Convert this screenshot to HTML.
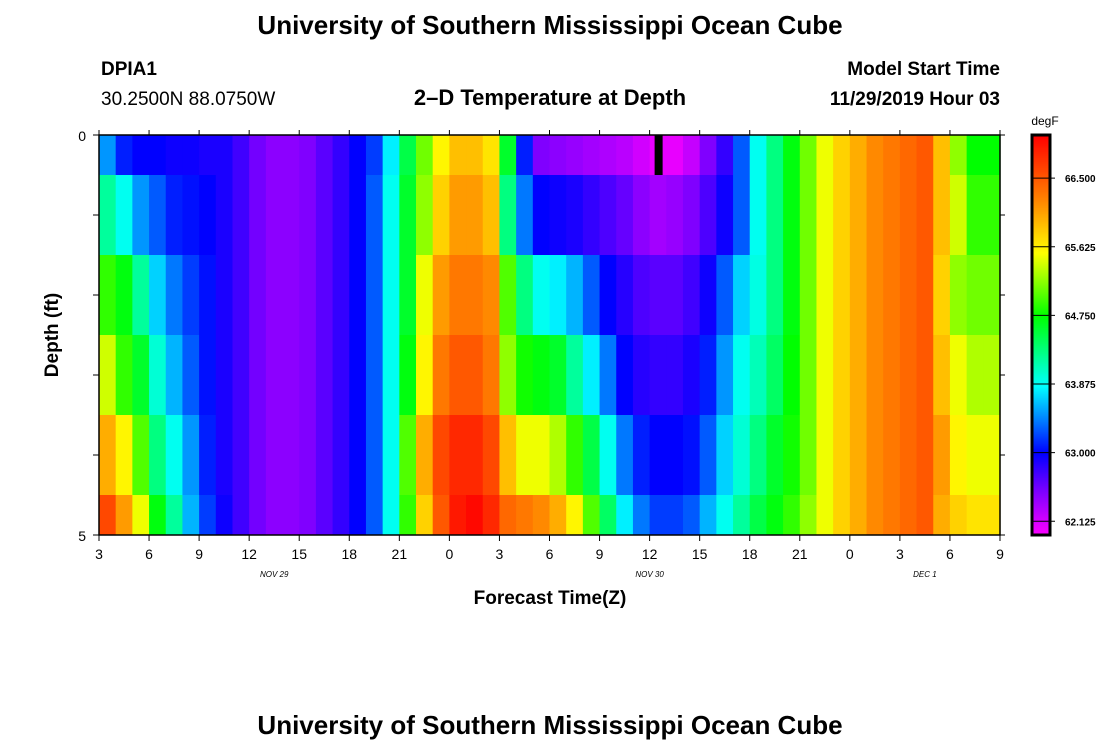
<!DOCTYPE html>
<html><head><meta charset="utf-8"><style>
body{margin:0;background:#fff;}
svg text{font-family:"Liberation Sans",sans-serif;}
</style></head><body>
<svg id="chart" width="1100" height="750" xmlns="http://www.w3.org/2000/svg">
<text x="550" y="34" text-anchor="middle" font-size="26" font-weight="bold">University of Southern Mississippi Ocean Cube</text>
<text x="101" y="75" font-size="19" font-weight="bold">DPIA1</text>
<text x="101" y="105" font-size="19">30.2500N 88.0750W</text>
<text x="550" y="105" text-anchor="middle" font-size="22" font-weight="bold">2–D Temperature at Depth</text>
<text x="1000" y="75" text-anchor="end" font-size="19" font-weight="bold">Model Start Time</text>
<text x="1000" y="105" text-anchor="end" font-size="19" font-weight="bold">11/29/2019 Hour 03</text>
<text transform="translate(58,335) rotate(-90)" text-anchor="middle" font-size="19" font-weight="bold">Depth (ft)</text>
<text x="550" y="604" text-anchor="middle" font-size="19" font-weight="bold">Forecast Time(Z)</text>
<text x="1045" y="125" text-anchor="middle" font-size="12">degF</text>
<text x="550" y="734" text-anchor="middle" font-size="26" font-weight="bold">University of Southern Mississippi Ocean Cube</text>
<g id="cells"></g><g id="axes"></g>
</svg>
<script>
const hours=[];for(let h=3;h<57;h++)hours.push(h);
const depthLevels=[0,1,2,3,4,5];
const row0=[63.5,63.1,63.0,63.0,62.95,62.95,62.9,62.9,62.75,62.55,62.45,62.45,62.5,62.65,62.8,63.0,63.2,63.8,64.5,65.1,65.6,65.9,65.9,65.7,64.6,63.1,62.5,62.45,62.4,62.35,62.3,62.25,62.15,62.05,62.05,62.2,62.5,62.8,63.3,63.9,64.3,64.7,65.1,65.5,65.8,66.0,66.2,66.3,66.4,66.5,65.9,65.2,64.75,64.75];
const row1=[64.2,63.9,63.5,63.3,63.1,63.05,63.0,62.9,62.75,62.55,62.45,62.45,62.5,62.65,62.8,63.0,63.3,63.9,64.6,65.2,65.8,66.1,66.1,65.9,64.3,63.4,63.0,62.95,62.9,62.8,62.7,62.6,62.45,62.35,62.4,62.5,62.7,62.95,63.3,63.9,64.3,64.7,65.1,65.5,65.8,66.0,66.2,66.3,66.4,66.5,65.9,65.4,64.9,64.9];
const row2=[64.9,64.7,64.2,63.7,63.4,63.2,63.05,62.9,62.75,62.55,62.45,62.45,62.5,62.65,62.8,63.0,63.3,63.9,64.6,65.5,66.1,66.3,66.3,66.2,65.0,64.3,63.9,63.8,63.6,63.3,63.0,62.85,62.7,62.65,62.65,62.75,62.95,63.3,63.7,63.95,64.3,64.7,65.1,65.5,65.8,66.0,66.2,66.3,66.4,66.5,65.8,65.2,65.1,65.1];
const row3=[65.4,64.9,64.6,64.0,63.6,63.3,63.05,62.9,62.75,62.55,62.45,62.45,62.5,62.65,62.8,63.0,63.3,63.9,64.7,65.6,66.3,66.5,66.5,66.3,65.2,64.8,64.7,64.6,64.2,63.8,63.4,63.0,62.85,62.8,62.8,62.9,63.1,63.5,63.9,64.1,64.4,64.75,65.1,65.5,65.8,66.0,66.2,66.3,66.4,66.5,65.9,65.5,65.3,65.3];
const row4=[66.0,65.6,65.0,64.3,63.9,63.5,63.1,62.9,62.75,62.55,62.45,62.45,62.5,62.65,62.8,63.0,63.3,63.9,65.0,66.0,66.6,66.8,66.8,66.6,65.9,65.5,65.5,65.3,64.9,64.5,63.9,63.4,63.1,63.0,63.0,63.05,63.3,63.7,64.0,64.3,64.6,64.8,65.1,65.5,65.8,66.0,66.2,66.3,66.4,66.5,66.1,65.6,65.5,65.5];
const row5=[66.6,66.1,65.5,64.7,64.2,63.6,63.2,62.95,62.75,62.55,62.45,62.45,62.5,62.65,62.8,63.0,63.3,63.9,64.9,65.8,66.5,66.9,67.0,66.8,66.4,66.3,66.2,66.0,65.6,65.0,64.4,63.8,63.4,63.2,63.2,63.3,63.6,63.9,64.2,64.5,64.7,64.9,65.2,65.5,65.8,66.0,66.2,66.3,66.4,66.5,66.0,65.8,65.7,65.7];
const rows=[row0,row1,row2,row3,row4,row5];
const xTicks=[3,6,9,12,15,18,21,24,27,30,33,36,39,42,45,48,51,54,57];
const xTickLabels=["3","6","9","12","15","18","21","0","3","6","9","12","15","18","21","0","3","6","9"];
const dateLabels=["NOV  29","NOV  30","DEC  1"];
const dateHours=[13.5,36,52.5];
const cbTicks=[62.125,63.0,63.875,64.75,65.625,66.5];
const cbMin=61.95,cbMax=67.05;
const X0=99,X1=1000,Y0=135,Y1=535;
const xS=h=>X0+(h-3)*(X1-X0)/54;
const yS=d=>Y0+d*(Y1-Y0)/5;
const stops=[[61.95,[255,0,255]],[62.5,[128,0,255]],[63.0,[0,0,255]],[63.85,[0,255,255]],[64.75,[0,255,0]],[65.55,[255,255,0]],[66.25,[255,128,0]],[67.05,[255,0,0]]];
function col(v){v=Math.max(cbMin,Math.min(cbMax,v));for(let i=0;i<stops.length-1;i++){const a=stops[i],b=stops[i+1];if(v<=b[0]){const t=(v-a[0])/(b[0]-a[0]);return 'rgb('+a[1].map((c,k)=>Math.round(c+(b[1][k]-c)*t)).join(',')+')';}}return 'rgb(255,0,0)';}
const NS='http://www.w3.org/2000/svg';
function mk(tag,at,parent,txt){const e=document.createElementNS(NS,tag);for(const k in at)e.setAttribute(k,at[k]);if(txt!==undefined)e.textContent=txt;parent.appendChild(e);return e;}
const cells=document.getElementById('cells'),axes=document.getElementById('axes');
rows.forEach((r,ri)=>{const d=depthLevels[ri];const ya=yS(Math.max(0,d-0.5)),yb=yS(Math.min(5,d+0.5));
r.forEach((v,ci)=>{const h=hours[ci];const x=xS(h);const c=mk('rect',{x:x.toFixed(2),y:ya,width:(xS(h+1)-x+0.6).toFixed(2),height:yb-ya,fill:col(v)},cells);

});});
const mark=mk('rect',{x:xS(36.3),y:Y0,width:8,height:yS(0.5)-Y0,fill:'#000'},axes);


const frame=mk('rect',{x:X0,y:Y0,width:X1-X0,height:Y1-Y0,fill:'none',stroke:'#000','stroke-width':1.5},axes);


xTicks.forEach((h,i)=>{const x=xS(h);mk('line',{x1:x,x2:x,y1:Y1,y2:Y1+6,stroke:'#000'},axes);mk('line',{x1:x,x2:x,y1:Y0,y2:Y0-5,stroke:'#000'},axes);
const t=mk('text',{x:x,y:Y1+24,'text-anchor':'middle','font-size':14},axes,xTickLabels[i]);

});
dateLabels.forEach((s,i)=>{const t=mk('text',{x:xS(dateHours[i]),y:Y1+42,'text-anchor':'middle','font-size':8,'font-style':'italic'},axes,s);

});
for(let d=0;d<=5;d++){const y=yS(d);mk('line',{x1:X0-6,x2:X0,y1:y,y2:y,stroke:'#000'},axes);mk('line',{x1:X1,x2:X1+5,y1:y,y2:y,stroke:'#000'},axes);}
[0,5].forEach(d=>{const t=mk('text',{x:X0-13,y:yS(d)+6,'text-anchor':'end','font-size':14},axes,String(d));

});
const CX=1032,CW=18,CY0=135,CY1=535;const cy=v=>CY1-(v-cbMin)/(cbMax-cbMin)*(CY1-CY0);
for(let i=0;i<200;i++){const v=cbMin+(cbMax-cbMin)*i/200;const s=mk('rect',{x:CX,y:(cy(v+(cbMax-cbMin)/200)).toFixed(2),width:CW,height:2.6,fill:col(v+(cbMax-cbMin)/400)},axes);

}
const cf=mk('rect',{x:CX,y:CY0,width:CW,height:CY1-CY0,fill:'none',stroke:'#000','stroke-width':3},axes);


cbTicks.forEach(v=>{const y=cy(v);mk('line',{x1:CX,x2:CX+CW+5,y1:y,y2:y,stroke:'#000'},axes);
const t=mk('text',{x:CX+33,y:y+4,'font-size':10,'font-family':'Liberation Serif','font-weight':'bold'},axes,v.toFixed(3));

});
</script>
</body></html>
